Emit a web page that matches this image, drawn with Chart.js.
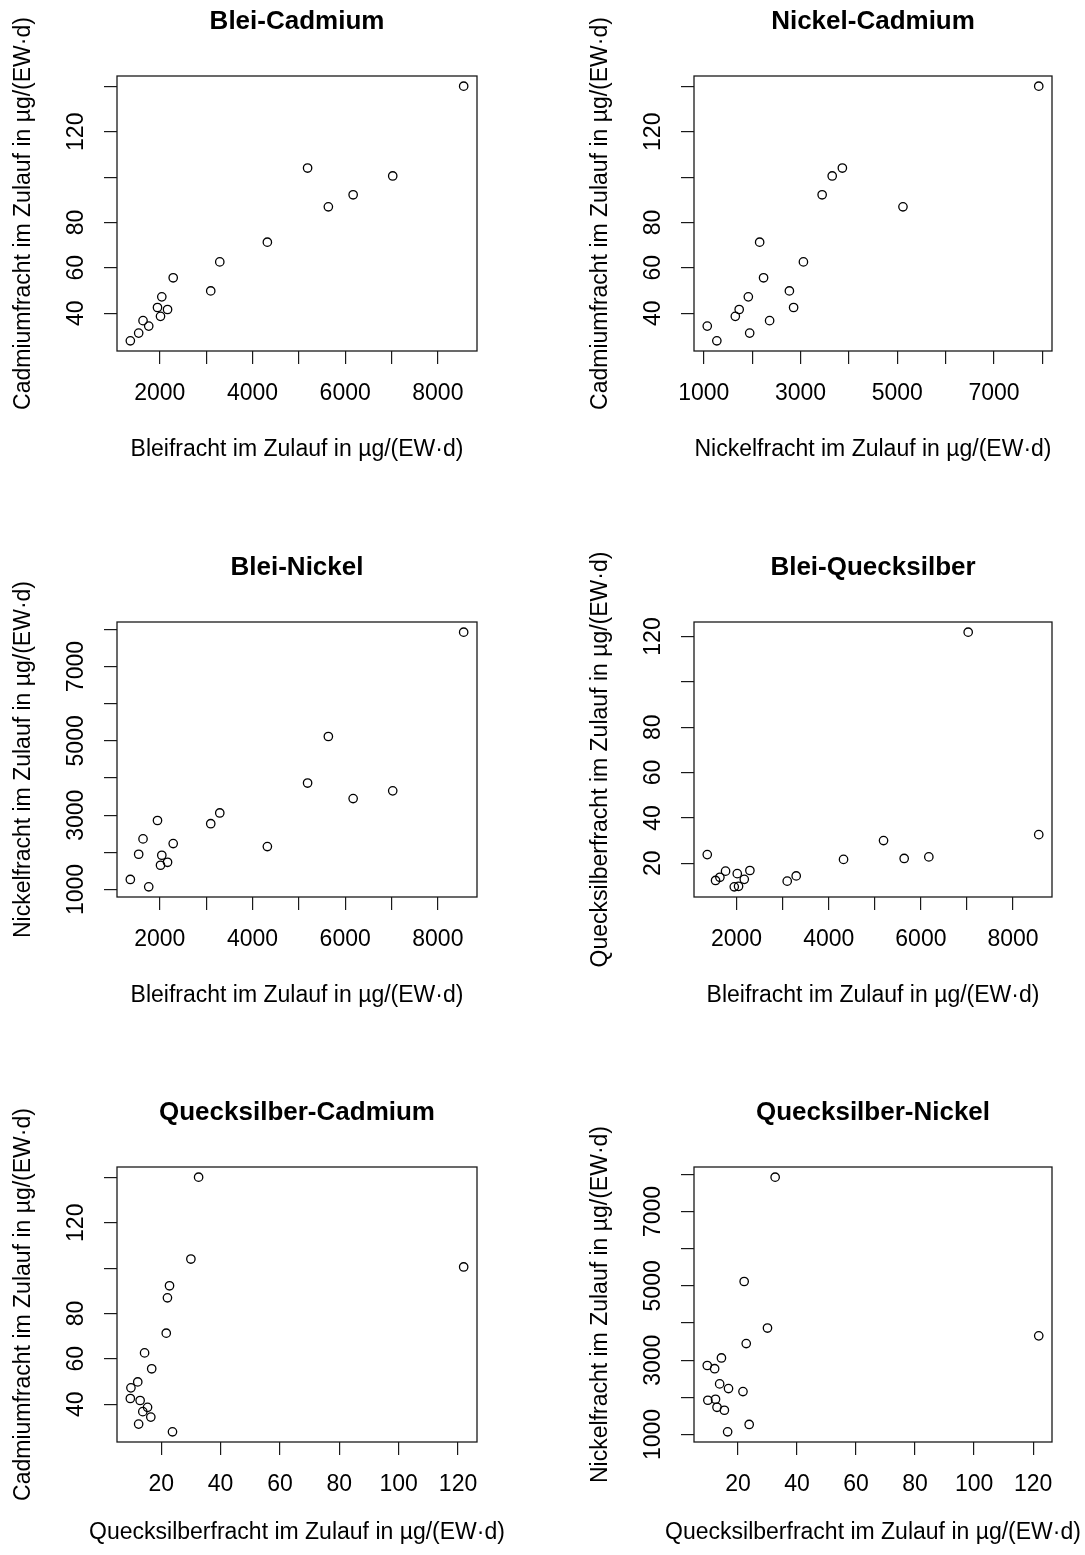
<!DOCTYPE html>
<html>
<head>
<meta charset="utf-8">
<script src="https://cdn.jsdelivr.net/npm/chart.js@4.4.0/dist/chart.umd.min.js"></script>
<style>
  html, body { margin: 0; padding: 0; background: #fff; overflow: hidden; }
  #page { position: relative; width: 1085px; height: 1555px; }
  .panel { position: absolute; width: 508px; height: 464px; }
</style>
</head>
<body>
<div id="page"></div>
<script>
// Frachten im Zulauf, 17 Beobachtungen, in µg/(EW·d)
const blei = [8557, 5189, 7026, 6172, 5637, 4321, 3294, 3099, 2289, 2043, 1950, 2167, 2015, 1638, 1761, 1544, 1364];
const cadmium = [140.1, 104.0, 100.5, 92.2, 86.9, 71.3, 62.6, 49.8, 55.6, 47.2, 42.5, 41.6, 38.6, 36.7, 34.3, 31.2, 27.8];
const nickel = [7925, 3865, 3655, 3447, 5118, 2155, 3060, 2770, 2236, 1921, 2857, 1732, 1652, 2361, 1072, 1949, 1270];
const quecksilber = [32.6, 30.0, 121.9, 22.8, 22.1, 21.7, 14.4, 12.1, 16.8, 9.8, 9.6, 12.9, 15.4, 13.8, 16.5, 12.4, 23.8];

// tick positions and which of them carry a label (R drops crowded ones)
const bleiTicks = [2000, 3000, 4000, 5000, 6000, 7000, 8000];
const bleiLabelsX = [2000, 4000, 6000, 8000];
const nickelTicks = [1000, 2000, 3000, 4000, 5000, 6000, 7000, 8000];
const nickelLabels = [1000, 3000, 5000, 7000];
const cadmiumTicks = [40, 60, 80, 100, 120, 140];
const cadmiumLabels = [40, 60, 80, 120];
const hgTicks = [20, 40, 60, 80, 100, 120];
const hgLabelsX = [20, 40, 60, 80, 100, 120];
const hgLabelsY = [20, 40, 60, 80, 120];

const vars = {
    blei: { data: blei, name: 'Bleifracht im Zulauf in µg/(EW·d)', ticks: bleiTicks, labelsX: bleiLabelsX, labelsY: bleiLabelsX },
    nickel: { data: nickel, name: 'Nickelfracht im Zulauf in µg/(EW·d)', ticks: nickelTicks, labelsX: nickelLabels, labelsY: nickelLabels },
    cadmium: { data: cadmium, name: 'Cadmiumfracht im Zulauf in µg/(EW·d)', ticks: cadmiumTicks, labelsX: cadmiumLabels, labelsY: cadmiumLabels },
    quecksilber: { data: quecksilber, name: 'Quecksilberfracht im Zulauf in µg/(EW·d)', ticks: hgTicks, labelsX: hgLabelsX, labelsY: hgLabelsY }
};

const panels = [
    { title: 'Blei-Cadmium', x: 'blei', y: 'cadmium', col: 0, row: 0 },
    { title: 'Nickel-Cadmium', x: 'nickel', y: 'cadmium', col: 1, row: 0 },
    { title: 'Blei-Nickel', x: 'blei', y: 'nickel', col: 0, row: 1 },
    { title: 'Blei-Quecksilber', x: 'blei', y: 'quecksilber', col: 1, row: 1 },
    { title: 'Quecksilber-Cadmium', x: 'quecksilber', y: 'cadmium', col: 0, row: 2 },
    { title: 'Quecksilber-Nickel', x: 'quecksilber', y: 'nickel', col: 1, row: 2 }
];

const FONT = 'Arial, "Liberation Sans", Helvetica, sans-serif';
const colLeft = [0, 577];
const colPadRight = [31, 33];
const rowTop = [0, 546, 1091];
const rowTitleY = [450, 450, 442];
const yTickPad = { cadmium: 8, nickel: 2, quecksilber: 8 };

// R-style box around the plot region
const boxPlugin = {
    id: 'rbox',
    afterDraw: function (chart) {
        const a = chart.chartArea;
        const ctx = chart.ctx;
        ctx.save();
        ctx.strokeStyle = '#1a1a1a';
        ctx.lineWidth = 1.3;
        ctx.strokeRect(a.left, a.top, a.right - a.left, a.bottom - a.top);
        ctx.restore();
    }
};

// x axis title, drawn without the width limit Chart.js puts on scale titles
const xTitlePlugin = {
    id: 'xtitle',
    afterDraw: function (chart, args, opts) {
        const a = chart.chartArea;
        const ctx = chart.ctx;
        ctx.save();
        ctx.fillStyle = '#000';
        ctx.font = '23px ' + FONT;
        ctx.textAlign = 'center';
        ctx.textBaseline = 'middle';
        ctx.fillText(opts.text, (a.left + a.right) / 2, opts.y);
        ctx.restore();
    }
};

// 4% range extension like par(xaxs = "r")
function range(arr) {
    const lo = Math.min.apply(null, arr);
    const hi = Math.max.apply(null, arr);
    const d = (hi - lo) * 0.04;
    return { min: lo - d, max: hi + d };
}

function makeAxis(key, pos) {
    const v = vars[key];
    const r = range(v.data);
    const isY = pos === 'left';
    const labels = isY ? v.labelsY : v.labelsX;
    return {
        type: 'linear',
        position: pos,
        min: r.min,
        max: r.max,
        afterBuildTicks: function (s) {
            s.ticks = v.ticks.map(function (t) { return { value: t }; });
        },
        afterFit: function (s) {
            if (isY) s.width = 117; else s.height = 113;
        },
        grid: { display: true, drawOnChartArea: false, drawTicks: true, tickLength: 13, color: '#1a1a1a', lineWidth: 1.2 },
        border: { display: false },
        ticks: {
            autoSkip: false,
            color: '#000',
            font: { family: FONT, size: 23 },
            padding: isY ? yTickPad[key] : 16,
            minRotation: isY ? 90 : 0,
            maxRotation: isY ? 90 : 0,
            crossAlign: isY ? 'center' : 'near',
            callback: function (val) { return labels.indexOf(val) >= 0 ? String(val) : ''; }
        },
        title: {
            display: isY,
            text: v.name,
            color: '#000',
            font: { family: FONT, size: 23 },
            padding: { top: 10, bottom: 0 }
        }
    };
}

const page = document.getElementById('page');

panels.forEach(function (p) {
    const div = document.createElement('div');
    div.className = 'panel';
    div.style.left = colLeft[p.col] + 'px';
    div.style.top = rowTop[p.row] + 'px';
    const canvas = document.createElement('canvas');
    div.appendChild(canvas);
    page.appendChild(div);

    const xs = vars[p.x].data;
    const ys = vars[p.y].data;
    const points = xs.map(function (x, i) { return { x: x, y: ys[i] }; });

    new Chart(canvas.getContext('2d'), {
        type: 'scatter',
        data: {
            datasets: [{
                data: points,
                pointStyle: 'circle',
                pointRadius: 4.2,
                pointBorderWidth: 1.3,
                borderColor: '#000',
                backgroundColor: 'rgba(0,0,0,0)'
            }]
        },
        options: {
            responsive: true,
            maintainAspectRatio: false,
            animation: false,
            layout: { padding: { left: 0, right: colPadRight[p.col], top: 0, bottom: 0 } },
            scales: {
                x: makeAxis(p.x, 'bottom'),
                y: makeAxis(p.y, 'left')
            },
            plugins: {
                legend: { display: false },
                tooltip: { enabled: false },
                title: {
                    display: true,
                    fullSize: false,
                    text: p.title,
                    color: '#000',
                    font: { family: FONT, size: 26, weight: 'bold' },
                    padding: { top: 6, bottom: 38.8 }
                },
                xtitle: { text: vars[p.x].name, y: rowTitleY[p.row] }
            }
        },
        plugins: [boxPlugin, xTitlePlugin]
    });
});
</script>
</body>
</html>
